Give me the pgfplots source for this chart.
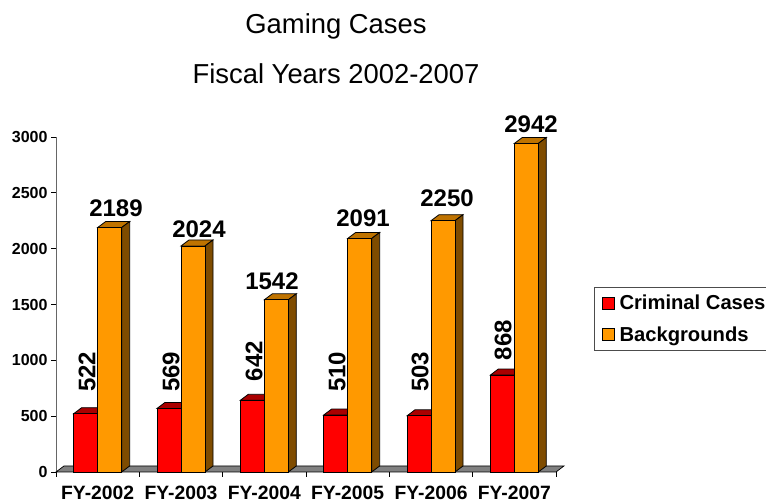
\documentclass[border=0pt]{standalone}
\usepackage{pgfplots}
\usepackage{fontspec}
\setmainfont{Liberation Sans}
\pgfplotsset{compat=1.18}
\definecolor{cred}{RGB}{255,0,0}
\definecolor{credtop}{RGB}{170,0,0}
\definecolor{corange}{RGB}{255,153,0}
\definecolor{corangetop}{RGB}{191,115,0}
\definecolor{corangeside}{RGB}{127,76,0}
\definecolor{cfloor}{RGB}{128,128,128}
\newcommand{\fs}[1]{\fontsize{#1bp}{#1bp}\selectfont}
\begin{document}
\begin{tikzpicture}[x=1bp,y=1bp]
\path[use as bounding box] (0,0) rectangle (766,504);
\node[font=\fs{27.4}] at (336,478) {Gaming Cases};
\node[font=\fs{27.4}] at (336,430) {Fiscal Years 2002-2007};
\begin{axis}[
  at={(56bp,32bp)}, anchor=origin,
  scale only axis, width=500bp, height=335bp,
  xmin=0, xmax=6, ymin=0, ymax=3000,
  clip=false,
  axis y line*=left, axis x line*=bottom,
  y axis line style={draw=black!60, line width=1pt, -},
  x axis line style={draw=black, line width=1pt, -},
  xtick={0,1,2,3,4,5,6}, xticklabels={},
  extra x ticks={0.5,1.5,2.5,3.5,4.5,5.5},
  extra x tick labels={FY-2002,FY-2003,FY-2004,FY-2005,FY-2006,FY-2007},
  extra x tick style={major tick length=0pt, tick label style={yshift=-13bp}},
  ytick={0,500,1000,1500,2000,2500,3000},
  tick style={black, line width=0.8pt},
  major tick length=5bp, tick align=outside,
  yticklabel style={/pgf/number format/fixed, /pgf/number format/1000 sep={}, /pgf/number format/assume math mode=true, font=\fs{16}\bfseries},
  xticklabel style={font=\fs{19.3}\bfseries, inner ysep=1bp},
  legend style={at={(1.076,0.552)}, anchor=north west, draw=black!70, font=\fs{20.2}\bfseries,
    legend cell align=left, row sep=11bp, inner xsep=8bp, inner ysep=6bp, column sep=3.5bp,
    nodes={inner xsep=1bp}},
  legend image code/.code={\draw[#1, draw=black, line width=0.8pt] (0cm,-6bp) rectangle (12bp,6bp);},
]
% legend entries
\addlegendimage{fill=cred}
\addlegendentry{Criminal Cases}
\addlegendimage{fill=corange}
\addlegendentry{Backgrounds}
% floor
\addplot[fill=cfloor, draw=black, line width=0.7pt, forget plot] coordinates {(0,0)(6,0)(6.096,54)(0.096,54)} -- cycle;
% red tops
\addplot[fill=credtop, draw=black, line width=0.8pt, forget plot] coordinates {(0.212,522)(0.5,522)(0.596,576)(0.308,576)} -- cycle;
\addplot[fill=credtop, draw=black, line width=0.8pt, forget plot] coordinates {(1.212,569)(1.5,569)(1.596,623)(1.308,623)} -- cycle;
\addplot[fill=credtop, draw=black, line width=0.8pt, forget plot] coordinates {(2.212,642)(2.5,642)(2.596,696)(2.308,696)} -- cycle;
\addplot[fill=credtop, draw=black, line width=0.8pt, forget plot] coordinates {(3.212,510)(3.5,510)(3.596,564)(3.308,564)} -- cycle;
\addplot[fill=credtop, draw=black, line width=0.8pt, forget plot] coordinates {(4.212,503)(4.5,503)(4.596,557)(4.308,557)} -- cycle;
\addplot[fill=credtop, draw=black, line width=0.8pt, forget plot] coordinates {(5.212,868)(5.5,868)(5.596,922)(5.308,922)} -- cycle;
% red fronts
\addplot[ybar, bar width=0.288, bar shift=-0.144, fill=cred, draw=black, line width=0.8pt, forget plot]
  coordinates {(0.5,522)(1.5,569)(2.5,642)(3.5,510)(4.5,503)(5.5,868)};
% orange tops
\addplot[fill=corangetop, draw=black, line width=0.8pt, forget plot] coordinates {(0.5,2189)(0.788,2189)(0.884,2243)(0.596,2243)} -- cycle;
\addplot[fill=corangetop, draw=black, line width=0.8pt, forget plot] coordinates {(1.5,2024)(1.788,2024)(1.884,2078)(1.596,2078)} -- cycle;
\addplot[fill=corangetop, draw=black, line width=0.8pt, forget plot] coordinates {(2.5,1542)(2.788,1542)(2.884,1596)(2.596,1596)} -- cycle;
\addplot[fill=corangetop, draw=black, line width=0.8pt, forget plot] coordinates {(3.5,2091)(3.788,2091)(3.884,2145)(3.596,2145)} -- cycle;
\addplot[fill=corangetop, draw=black, line width=0.8pt, forget plot] coordinates {(4.5,2250)(4.788,2250)(4.884,2304)(4.596,2304)} -- cycle;
\addplot[fill=corangetop, draw=black, line width=0.8pt, forget plot] coordinates {(5.5,2942)(5.788,2942)(5.884,2996)(5.596,2996)} -- cycle;
% orange sides
\addplot[fill=corangeside, draw=black, line width=0.8pt, forget plot] coordinates {(0.788,0)(0.884,54)(0.884,2243)(0.788,2189)} -- cycle;
\addplot[fill=corangeside, draw=black, line width=0.8pt, forget plot] coordinates {(1.788,0)(1.884,54)(1.884,2078)(1.788,2024)} -- cycle;
\addplot[fill=corangeside, draw=black, line width=0.8pt, forget plot] coordinates {(2.788,0)(2.884,54)(2.884,1596)(2.788,1542)} -- cycle;
\addplot[fill=corangeside, draw=black, line width=0.8pt, forget plot] coordinates {(3.788,0)(3.884,54)(3.884,2145)(3.788,2091)} -- cycle;
\addplot[fill=corangeside, draw=black, line width=0.8pt, forget plot] coordinates {(4.788,0)(4.884,54)(4.884,2304)(4.788,2250)} -- cycle;
\addplot[fill=corangeside, draw=black, line width=0.8pt, forget plot] coordinates {(5.788,0)(5.884,54)(5.884,2996)(5.788,2942)} -- cycle;
% orange fronts
\addplot[ybar, bar width=0.288, bar shift=0.144, fill=corange, draw=black, line width=0.8pt, forget plot]
  coordinates {(0.5,2189)(1.5,2024)(2.5,1542)(3.5,2091)(4.5,2250)(5.5,2942)};
% value labels
\node[font=\fs{24}\bfseries] at (axis cs:0.72,2364) {2189};
\node[font=\fs{24}\bfseries] at (axis cs:1.716,2176) {2024};
\node[font=\fs{24}\bfseries] at (axis cs:2.592,1710) {1542};
\node[font=\fs{24}\bfseries] at (axis cs:3.684,2275) {2091};
\node[font=\fs{24}\bfseries] at (axis cs:4.692,2454) {2250};
\node[font=\fs{24}\bfseries] at (axis cs:5.70,3116) {2942};
\node[font=\fs{24}\bfseries, rotate=90] at (axis cs:0.372,896) {522};
\node[font=\fs{24}\bfseries, rotate=90] at (axis cs:1.38,896) {569};
\node[font=\fs{24}\bfseries, rotate=90] at (axis cs:2.376,994) {642};
\node[font=\fs{24}\bfseries, rotate=90] at (axis cs:3.372,896) {510};
\node[font=\fs{24}\bfseries, rotate=90] at (axis cs:4.368,896) {503};
\node[font=\fs{24}\bfseries, rotate=90] at (axis cs:5.364,1182) {868};
\end{axis}
\end{tikzpicture}
\end{document}
